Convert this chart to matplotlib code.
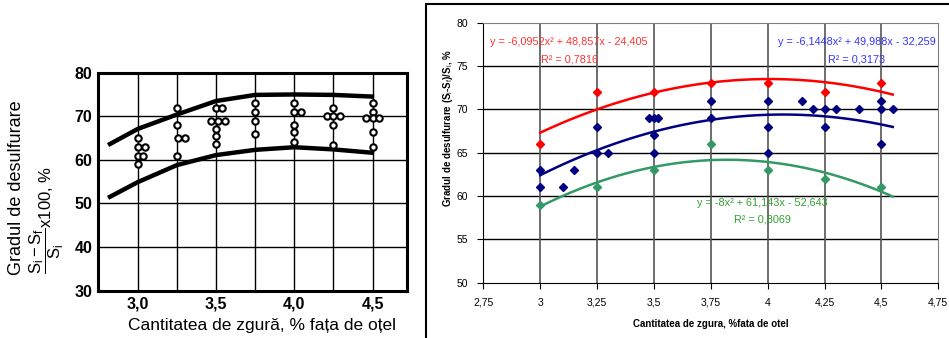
import matplotlib.pyplot as plt
import numpy as np
from matplotlib.patches import Rectangle

plt.rcParams['font.family'] = ['Liberation Sans', 'DejaVu Sans']
plt.rcParams['mathtext.fontset'] = 'custom'
plt.rcParams['mathtext.rm'] = 'Liberation Sans'
plt.rcParams['mathtext.it'] = 'Liberation Sans'
plt.rcParams['mathtext.bf'] = 'Liberation Sans:bold'

# panou stanga - banda si punctele masurate
band_x = [2.81, 3.0, 3.25, 3.5, 3.75, 4.0, 4.25, 4.51]
band_sus = [63.4, 67.1, 70.4, 73.5, 74.9, 75.0, 74.9, 74.5]
band_jos = [51.3, 54.9, 58.8, 61.1, 62.3, 62.9, 62.4, 61.6]

pct_x = [3.0, 3.0, 3.045, 3.0, 3.035, 3.0,
         3.25, 3.25, 3.26, 3.30, 3.25,
         3.5, 3.54, 3.47, 3.51, 3.56, 3.5, 3.5, 3.5,
         3.75, 3.75, 3.75, 3.75,
         4.0, 4.0, 4.04, 4.0, 4.0, 4.0,
         4.25, 4.21, 4.25, 4.29, 4.25, 4.25,
         4.5, 4.5, 4.46, 4.5, 4.54, 4.5, 4.5]
pct_y = [65, 63, 63, 61, 61, 59,
         72, 68, 65, 65, 61,
         72, 72, 69, 69, 69, 67, 65.5, 63.6,
         73, 71, 69, 66,
         73, 71, 71, 68, 66.5, 64,
         72, 70, 70, 70, 68, 63.5,
         73, 71, 69.7, 69.7, 69.7, 66.5, 63]

# panou dreapta - serii
rosu_x = [3, 3.25, 3.5, 3.75, 4, 4.25, 4.5]
rosu_y = [66, 72, 72, 73, 73, 72, 73]
verde_x = [3, 3.25, 3.5, 3.75, 4, 4.25, 4.5]
verde_y = [59, 61, 63, 66, 63, 62, 61]
albastru_x = [3, 3, 3.1, 3.15, 3.25, 3.25, 3.3, 3.48, 3.5, 3.52, 3.5, 3.5,
              3.75, 3.75, 4, 4, 4, 4.15, 4.2, 4.25, 4.25, 4.3, 4.4,
              4.5, 4.5, 4.5, 4.55]
albastru_y = [63, 61, 61, 63, 68, 65, 65, 69, 69, 69, 67, 65,
              71, 69, 71, 68, 65, 71, 70, 70, 68, 70, 70,
              71, 70, 66, 70]

coef_rosu = [-6.0952, 48.857, -24.405]
coef_albastru = [-6.1448, 49.988, -32.259]
coef_verde = [-8.0, 61.143, -52.643]

eq_rosu = ['y = -6,0952x² + 48,857x - 24,405', 'R² = 0,7816']
eq_albastru = ['y = -6,1448x² + 49,988x - 32,259', 'R² = 0,3173']
eq_verde = ['y = -8x² + 61,143x - 52,643', 'R² = 0,8069']

fig = plt.figure(figsize=(9.49, 3.38), dpi=100)

# ---------------- stanga
ax1 = fig.add_axes([0.1033, 0.140, 0.3256, 0.645])
ax1.plot(band_x, band_sus, color='black', lw=3.2, solid_capstyle='butt')
ax1.plot(band_x, band_jos, color='black', lw=3.2, solid_capstyle='butt')
ax1.plot(pct_x, pct_y, ls='none', marker='o', ms=4.6, mfc='white', mec='black', mew=1.5, zorder=3)
ax1.set_xlim(2.746, 4.72)
ax1.set_ylim(30, 80)
ax1.set_xticks([3.0, 3.25, 3.5, 3.75, 4.0, 4.25, 4.5])
ax1.set_xticklabels(['3,0', '', '3,5', '', '4,0', '', '4,5'])
ax1.set_yticks([30, 40, 50, 60, 70, 80])
ax1.grid(True, color='black', lw=1)
ax1.tick_params(length=0, labelsize=11.5, pad=4)
for lab in ax1.get_xticklabels() + ax1.get_yticklabels():
    lab.set_fontweight('bold')
for s in ax1.spines.values():
    s.set_linewidth(2.2)
ax1.set_xlabel('Cantitatea de zgură, % fața de oțel', fontsize=12.5)
ax1.xaxis.set_label_coords(0.53, -0.125)
fig.text(0.017, 0.445, 'Gradul de desulfurare', rotation=90, fontsize=13,
         ha='center', va='center')
fig.text(0.049, 0.35, r'$\dfrac{\mathrm{S_i - S_f}}{\mathrm{S_i}}$x100, %', rotation=90,
         fontsize=12, ha='center', va='center')

# ---------------- dreapta
fig.patches.append(Rectangle((426 / 949, -0.1), 0.6, 1.1 - 4 / 338, transform=fig.transFigure,
                             fill=False, edgecolor='black', lw=1.5))

ax2 = fig.add_axes([0.5093, 0.1636, 0.4794, 0.7692])
xs = np.linspace(3, 4.55, 100)
ax2.plot(xs, np.polyval(coef_rosu, xs), color='#ff0000', lw=1.8)
ax2.plot(xs, np.polyval(coef_albastru, xs), color='#000080', lw=1.8)
ax2.plot(xs, np.polyval(coef_verde, xs), color='#339966', lw=1.8)
ax2.plot(rosu_x, rosu_y, ls='none', marker='D', ms=4.5, color='#ff0000', zorder=4)
ax2.plot(albastru_x, albastru_y, ls='none', marker='D', ms=4.5, color='#000080', zorder=4)
ax2.plot(verde_x, verde_y, ls='none', marker='D', ms=4.5, color='#339966', zorder=4)

ax2.set_xlim(2.75, 4.75)
ax2.set_ylim(50, 80)
ax2.set_xticks(np.arange(2.75, 4.76, 0.25))
ax2.set_xticklabels(['2,75', '3', '3,25', '3,5', '3,75', '4', '4,25', '4,5', '4,75'])
ax2.set_yticks(np.arange(50, 81, 5))
for yv in [55, 60, 65, 70, 75]:
    ax2.axhline(yv, color='black', lw=1, zorder=1)
for xv in [3, 3.25, 3.5, 3.75, 4, 4.25, 4.5]:
    ax2.axvline(xv, color='#555555', lw=1.2, zorder=1)
ax2.spines['top'].set_color('#808080')
ax2.spines['right'].set_color('#808080')
ax2.tick_params(direction='out', length=4, labelsize=7.5, pad=7)
ax2.set_xlabel('Cantitatea de zgura, %fata de otel', fontsize=7, fontweight='bold', labelpad=8)
fig.text(448 / 949, 1 - 128 / 338, 'Gradul de desulfurare (S$_\\mathrm{i}$-S$_\\mathrm{f}$)/S$_\\mathrm{i}$, %',
         rotation=90, fontsize=7, fontweight='bold', ha='center', va='center')

ax2.text(3.125, 77.77, eq_rosu[0], color='#ff3333', fontsize=7.8, ha='center', va='center')
ax2.text(3.127, 75.8, eq_rosu[1], color='#ff3333', fontsize=7.8, ha='center', va='center')
ax2.text(4.39, 77.77, eq_albastru[0], color='#3333ff', fontsize=7.8, ha='center', va='center')
ax2.text(4.392, 75.8, eq_albastru[1], color='#3333ff', fontsize=7.8, ha='center', va='center')
ax2.text(3.975, 59.2, eq_verde[0], color='#33a033', fontsize=7.8, ha='center', va='center')
ax2.text(3.975, 57.35, eq_verde[1], color='#33a033', fontsize=7.8, ha='center', va='center')

plt.savefig('out.png', dpi=100)
